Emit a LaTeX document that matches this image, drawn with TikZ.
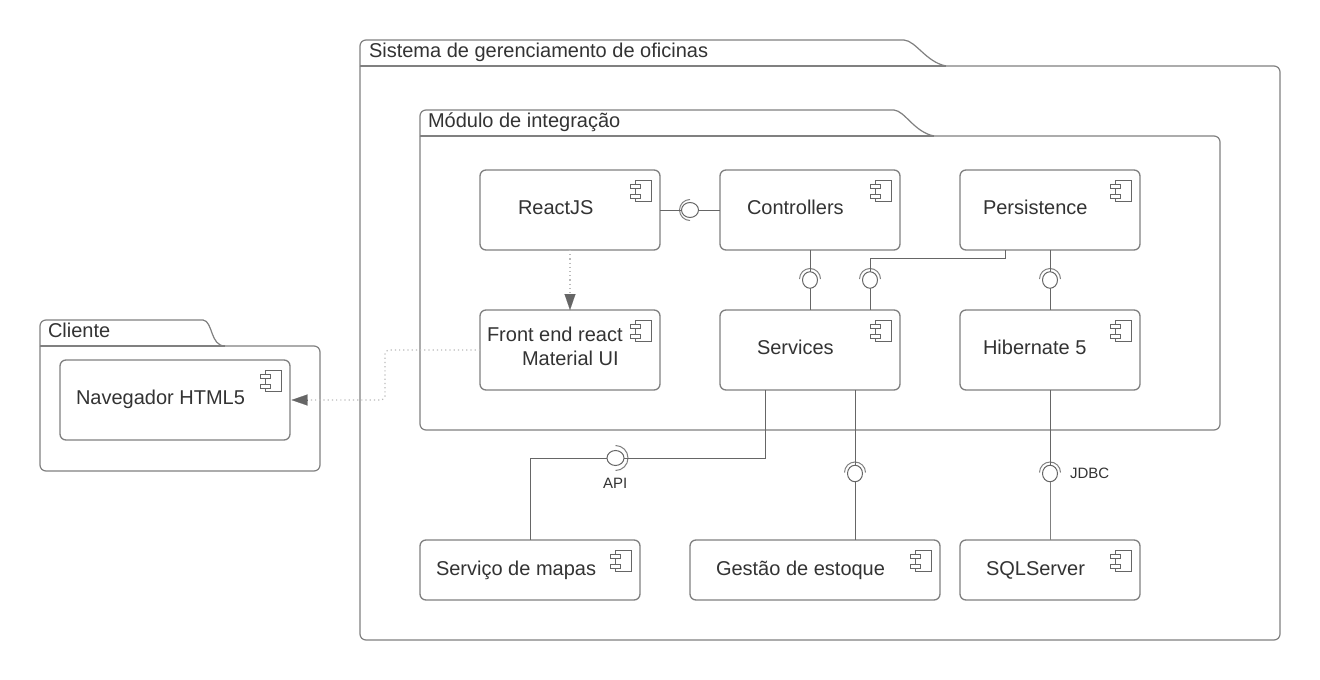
\documentclass[tikz,border=0pt]{standalone}
\usepackage{fontspec}
\setmainfont{Liberation Sans}
\usetikzlibrary{arrows.meta,calc,shapes.geometric}
\definecolor{edge}{HTML}{808080}
\definecolor{wire}{HTML}{666666}
\definecolor{dots}{HTML}{BBBBBB}
\definecolor{tip}{HTML}{666666}
\definecolor{ink}{HTML}{333333}
\tikzset{
  compbox/.style={draw=edge,line width=1.3pt,rounded corners=6pt,inner sep=0pt,outer sep=0pt,fill=white},
  pkg/.style={draw=edge,line width=1.2pt},
  label20/.style={anchor=base west,inner sep=0pt,outer sep=0pt,text=ink,font=\fontsize{20}{24}\selectfont},
  label15/.style={anchor=base west,inner sep=0pt,outer sep=0pt,text=ink,font=\fontsize{15}{18}\selectfont},
  icon/.style={draw=wire,line width=.9pt,fill=white},
  ballv/.style={draw=wire,line width=1pt,ellipse,minimum width=15pt,minimum height=16.5pt,inner sep=0pt,outer sep=0pt},
  ballh/.style={draw=wire,line width=1pt,ellipse,minimum width=17pt,minimum height=15pt,inner sep=0pt,outer sep=0pt},
  socket/.style={draw=edge,line width=1pt},
  wireline/.style={draw=wire,line width=1pt},
  dep/.style={draw=dots,line width=1.2pt,dash pattern=on 1.2pt off 3pt},
  deptip/.style={draw=tip,line width=.1pt,-{Triangle[length=16pt,width=11pt,fill=tip]}},
}
\newcommand{\compnode}[5]{% name, cx, cy, w, h
  \node[compbox,minimum width=#4pt,minimum height=#5pt] (#1) at (#2,#3) {};
  \begin{scope}[shift={(#1.north east)}]
    \draw[icon] (-25,10) rectangle (-9,31);
    \draw[icon] (-30,14) rectangle (-20,18);
    \draw[icon] (-30,24) rectangle (-20,28);
  \end{scope}
}
\newcommand{\sockettop}[1]{\draw[socket] ($(#1.center)+(-10.5pt,1pt)$) arc[start angle=180,end angle=0,radius=10.5pt];}
\begin{document}
\begin{tikzpicture}[x=1pt,y=-1pt]
\useasboundingbox[fill=white] (0,0) rectangle (1320,680);
% packages
\draw[pkg,rounded corners=6pt] (360,66) -- (360,40) -- (904,40);
\draw[pkg] (904,40) .. controls (916,41) and (926,62) .. (946,66);
\draw[pkg,rounded corners=6pt] (946,66) -- (1280,66) -- (1280,640) -- (360,640) -- (360,66);
\draw[pkg] (360,66) -- (946,66);
\draw[pkg,rounded corners=6pt] (420,136) -- (420,110) -- (894,110);
\draw[pkg] (894,110) .. controls (905,111) and (914,132) .. (934,136);
\draw[pkg,rounded corners=6pt] (934,136) -- (1220,136) -- (1220,430) -- (420,430) -- (420,136);
\draw[pkg] (420,136) -- (934,136);
\draw[pkg,rounded corners=6pt] (40,346) -- (40,320) -- (203,320);
\draw[pkg] (203,320) .. controls (213,321) and (210,346) .. (225,346);
\draw[pkg,rounded corners=6pt] (225,346) -- (320,346) -- (320,471) -- (40,471) -- (40,346);
\draw[pkg] (40,346) -- (225,346);
\node[label20] (tsis) at (369,57) {Sistema de gerenciamento de oficinas};
\node[label20] (tmod) at (428,127) {Módulo de integração};
\node[label20] (tcli) at (48,337) {Cliente};
% components
\compnode{react}{570}{210}{180}{80}
\compnode{ctrl}{810}{210}{180}{80}
\compnode{pers}{1050}{210}{180}{80}
\compnode{front}{570}{350}{180}{80}
\compnode{serv}{810}{350}{180}{80}
\compnode{hib}{1050}{350}{180}{80}
\compnode{nav}{175}{400}{230}{80}
\compnode{maps}{530}{570}{220}{60}
\compnode{stock}{815}{570}{250}{60}
\compnode{sql}{1050}{570}{180}{60}
\node[label20] (treact) at (518,214) {ReactJS};
\node[label20] (tctrl) at (747,214) {Controllers};
\node[label20] (tpers) at (983,214) {Persistence};
\node[label20] (tfront) at (487,341) {Front end react};
\node[label20] (tmat) at (522,365) {Material UI};
\node[label20] (tserv) at (757,354) {Services};
\node[label20] (thib) at (983,354) {Hibernate 5};
\node[label20] (tnav) at (76,404) {Navegador HTML5};
\node[label20] (tmaps) at (436,575) {Serviço de mapas};
\node[label20] (tstock) at (716,575) {Gestão de estoque};
\node[label20] (tsql) at (986,575) {SQLServer};
% interface balls
\node[ballh] (b1) at (690,210) {};
\node[ballv] (b2) at (810,280) {};
\node[ballv] (b3) at (870,280) {};
\node[ballv] (b4) at (1050,280) {};
\node[ballh] (b5) at (615.5,458) {};
\node[ballv] (b6) at (855,473.5) {};
\node[ballv] (b7) at (1050,473.5) {};
\draw[socket] ($(b1.center)+(0pt,10.5pt)$) arc[start angle=90,end angle=270,radius=10.5pt];
\draw[socket] ($(b5.center)+(0pt,12.5pt)$) arc[start angle=90,end angle=-90,radius=12.5pt];
\sockettop{b2}\sockettop{b3}\sockettop{b4}\sockettop{b6}\sockettop{b7}
% wires
\coordinate (c3a) at (870,258);
\coordinate (c3b) at (1005,258);
\coordinate (c3c) at (1005,250);
\coordinate (c5a) at (765,390);
\coordinate (c5b) at (765,458);
\coordinate (c5c) at (530,458);
\coordinate (c5d) at (530,540);
\draw[wireline] (react.east) -- (b1.west);
\draw[wireline] (b1.east) -- (ctrl.west);
\draw[wireline] (ctrl.south) -- (b2.north);
\draw[wireline] (b2.south) -- (serv.north);
\draw[wireline] (c3c) -- (c3b) -- (c3a) -- (b3.north);
\draw[wireline] (b3.south) -- (serv.north -| b3);
\draw[wireline] (pers.south) -- (b4.north);
\draw[wireline] (b4.south) -- (hib.north);
\draw[wireline] (c5a) -- (c5b) -- (b5.east);
\draw[wireline] (b5.west) -- (c5c) -- (c5d);
\draw[wireline] (serv.south -| b6) -- (b6.north);
\draw[wireline] (b6.south) -- (stock.north -| b6);
\draw[wireline] (hib.south) -- (b7.north);
\draw[wireline,draw=edge] (b7.south) -- (sql.north);
% dependencies
\coordinate (d1) at (570,294);
\coordinate (d2) at (385,350);
\coordinate (d3) at (385,400);
\coordinate (d4) at (307,400);
\draw[dep] (react.south) -- (d1);
\draw[deptip] (d1) -- (front.north);
\draw[dep,rounded corners=4pt] (front.west) -- (d2) -- (d3) -- (d4);
\draw[deptip,shorten >=1.5pt] (d4) -- (nav.east);
\node[label15] (tapi) at (603,488) {API};
\node[label15] (tjdbc) at (1070,478) {JDBC};
\end{tikzpicture}
\end{document}
